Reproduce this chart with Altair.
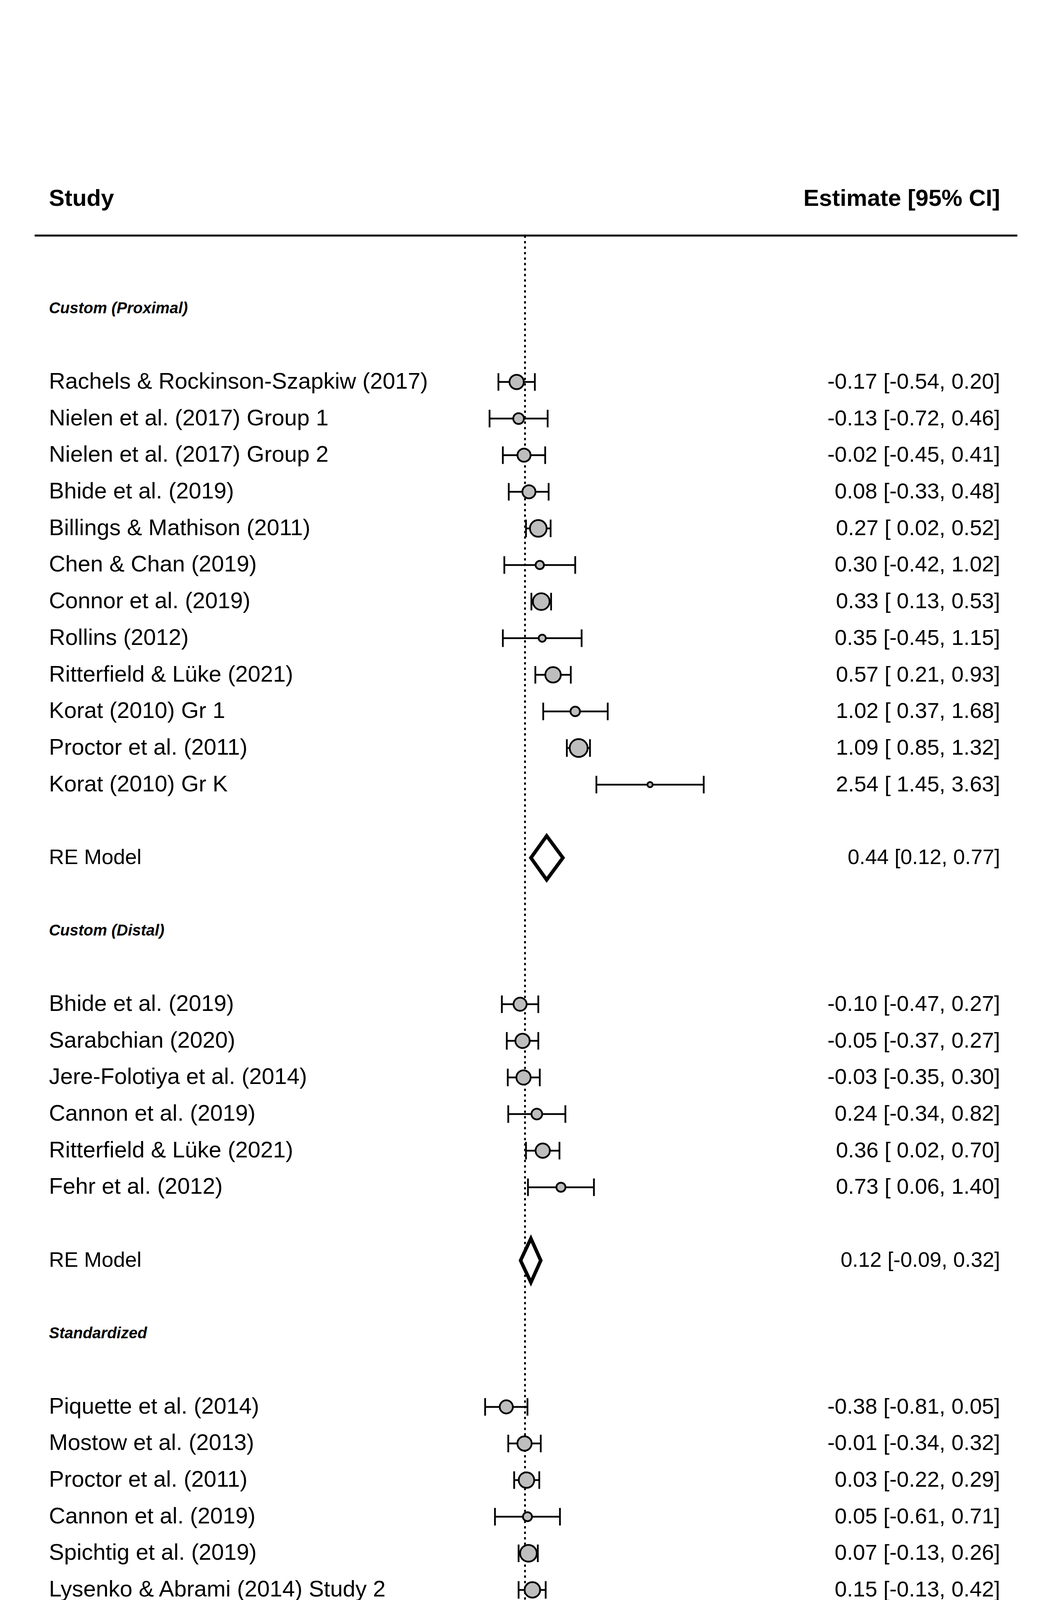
import altair as alt
import pandas as pd

# study rows: name, estimate, lower, upper, marker radius (display units)
prox_names = ["Rachels & Rockinson-Szapkiw (2017)", "Nielen et al. (2017) Group 1", "Nielen et al. (2017) Group 2",
              "Bhide et al. (2019)", "Billings & Mathison (2011)", "Chen & Chan (2019)", "Connor et al. (2019)",
              "Rollins (2012)", "Ritterfield & Lüke (2021)", "Korat (2010) Gr 1", "Proctor et al. (2011)",
              "Korat (2010) Gr K"]
prox_est = [-0.17, -0.13, -0.02, 0.08, 0.27, 0.30, 0.33, 0.35, 0.57, 1.02, 1.09, 2.54]
prox_lo = [-0.54, -0.72, -0.45, -0.33, 0.02, -0.42, 0.13, -0.45, 0.21, 0.37, 0.85, 1.45]
prox_hi = [0.20, 0.46, 0.41, 0.48, 0.52, 1.02, 0.53, 1.15, 0.93, 1.68, 1.32, 3.63]
prox_r = [6, 4.5, 5.5, 5.5, 7, 3.5, 7, 3, 6.5, 4, 7.5, 2.2]

dist_names = ["Bhide et al. (2019)", "Sarabchian (2020)", "Jere-Folotiya et al. (2014)", "Cannon et al. (2019)",
              "Ritterfield & Lüke (2021)", "Fehr et al. (2012)"]
dist_est = [-0.10, -0.05, -0.03, 0.24, 0.36, 0.73]
dist_lo = [-0.47, -0.37, -0.35, -0.34, 0.02, 0.06]
dist_hi = [0.27, 0.27, 0.30, 0.82, 0.70, 1.40]
dist_r = [5.5, 6, 6, 4.5, 6, 3.8]

std_names = ["Piquette et al. (2014)", "Mostow et al. (2013)", "Proctor et al. (2011)", "Cannon et al. (2019)",
             "Spichtig et al. (2019)", "Lysenko & Abrami (2014) Study 2", "Lysenko & Abrami (2014) Study 1",
             "Savage et al. (2013)", "Alvarez-Marinelli et al. (2014)"]
std_est = [-0.38, -0.01, 0.03, 0.05, 0.07, 0.15, 0.17, 0.19, 0.25]
std_lo = [-0.81, -0.34, -0.22, -0.61, -0.13, -0.13, -0.03, 0.05, 0.12]
std_hi = [0.05, 0.32, 0.29, 0.71, 0.26, 0.42, 0.36, 0.33, 0.38]
std_r = [5.5, 6, 6.5, 3.8, 7, 6.5, 7, 7, 7]

# pooled models
re_rows = [13, 24, 37.5, 41]
re_est = [0.44, 0.12, 0.13, 0.22]
re_lo = [0.12, -0.09, 0.05, 0.09]
re_hi = [0.77, 0.32, 0.22, 0.36]
re_fill = ["white", "white", "white", "black"]
re_text = ["0.44 [0.12, 0.77]", "0.12 [-0.09, 0.32]", "0.13 [0.05, 0.22]", "0.22 [ 0.09, 0.36]"]
pi_lo, pi_hi = -0.40, 0.82

sections = ["Custom (Proximal)", "Custom (Distal)", "Standardized"]
section_rows = [-2, 15, 26]
ticks = [-1, 0, 1, 2, 3, 4]

S = 2688 / 780
FONT = "Liberation Sans"


def fmt(v):
    return f"{v:.2f}" if v < 0 else f" {v:.2f}"


rows = []
for names, est, lo, hi, rr, start in [(prox_names, prox_est, prox_lo, prox_hi, prox_r, 0),
                                      (dist_names, dist_est, dist_lo, dist_hi, dist_r, 17),
                                      (std_names, std_est, std_lo, std_hi, std_r, 28)]:
    for i, n in enumerate(names):
        rows.append(dict(study=n, est=est[i], lo=lo[i], hi=hi[i], y=start + i, y1=start + i - 0.24,
                         y2=start + i + 0.24, size=3.1416 * (rr[i] * S) ** 2,
                         label=f"{est[i]:.2f} [{fmt(lo[i])}, {fmt(hi[i])}]", lx=-9.67, rx=9.65))
df = pd.DataFrame(rows)

xs = alt.Scale(domain=[-10.6, 10.6])
ys = alt.Scale(domain=[-10.35, 46.85], reverse=True)


def X(f):
    return alt.X(f, type="quantitative", scale=xs, axis=None)


def Y(f):
    return alt.Y(f, type="quantitative", scale=ys, axis=None, stack=None)


base = alt.Chart(df)
lw = 4.5
ci = base.mark_rule(color="black", strokeWidth=lw).encode(x=X("lo"), x2="hi", y=Y("y"))
capl = base.mark_rule(color="black", strokeWidth=lw).encode(x=X("lo"), y=Y("y1"), y2="y2")
caph = base.mark_rule(color="black", strokeWidth=lw).encode(x=X("hi"), y=Y("y1"), y2="y2")
pts = base.mark_point(filled=True, fill="#bebebe", stroke="black", strokeWidth=lw, shape="circle", opacity=1).encode(
    x=X("est"), y=Y("y"), size=alt.Size("size:Q", scale=None, legend=None))
names_t = base.mark_text(align="left", font=FONT, fontSize=58, color="black").encode(
    x=X("lx"), y=Y("y"), text="study")
est_t = base.mark_text(align="right", font=FONT, fontSize=56, color="black").encode(
    x=X("rx"), y=Y("y"), text="label")

# diamonds: one area layer each
diamonds = []
for k in range(4):
    h = 0.6
    r = re_rows[k]
    ddf = pd.DataFrame(dict(x=[re_lo[k], re_est[k], re_hi[k]], ya=[r, r - h, r], yb=[r, r + h, r]))
    diamonds.append(alt.Chart(ddf).mark_area(stroke="black", strokeWidth=9, fill=re_fill[k], fillOpacity=1,
                                             orient="vertical").encode(x=X("x"), y=Y("ya"), y2="yb"))

redf = pd.DataFrame(dict(y=re_rows, t=re_text, lx=-9.67, rx=9.65, n="RE Model"))
re_names = alt.Chart(redf).mark_text(align="left", font=FONT, fontSize=54).encode(x=X("lx"), y=Y("y"), text="n")
re_vals = alt.Chart(redf).mark_text(align="right", font=FONT, fontSize=54).encode(x=X("rx"), y=Y("y"), text="t")

pidf = pd.DataFrame(dict(lo=[pi_lo], hi=[pi_hi], y=[41], y1=[40.78], y2=[41.22]))
pi_line = alt.Chart(pidf).mark_rule(color="#808080", strokeWidth=4, strokeDash=[14, 10]).encode(
    x=X("lo"), x2="hi", y=Y("y"))
pi_c1 = alt.Chart(pidf).mark_rule(color="#808080", strokeWidth=4).encode(x=X("lo"), y=Y("y1"), y2="y2")
pi_c2 = alt.Chart(pidf).mark_rule(color="#808080", strokeWidth=4).encode(x=X("hi"), y=Y("y1"), y2="y2")

secdf = pd.DataFrame(dict(t=sections, y=section_rows, lx=-9.67))
sec_t = alt.Chart(secdf).mark_text(align="left", font=FONT, fontSize=40, fontStyle="italic", fontWeight="bold").encode(
    x=X("lx"), y=Y("y"), text="t")

hdf = pd.DataFrame(dict(t=["Study", "Estimate [95% CI]"], x=[-9.67, 9.65], y=[-5, -5]))
head_l = alt.Chart(hdf.iloc[[0]]).mark_text(align="left", font=FONT, fontSize=60, fontWeight="bold").encode(
    x=X("x"), y=Y("y"), text="t")
head_r = alt.Chart(hdf.iloc[[1]]).mark_text(align="right", font=FONT, fontSize=60, fontWeight="bold").encode(
    x=X("x"), y=Y("y"), text="t")

hl = pd.DataFrame(dict(x=[-9.96, -9.96], x2=[10.0, 10.0], y=[-4, 40.1]))
hlines = alt.Chart(hl).mark_rule(color="black", strokeWidth=5).encode(x=X("x"), x2="x2", y=Y("y"))
zl = pd.DataFrame(dict(x=[0], y=[-4], y2=[41.7]))
zero = alt.Chart(zl).mark_rule(color="black", strokeWidth=4.5, strokeDash=[6, 8]).encode(x=X("x"), y=Y("y"), y2="y2")

tdf = pd.DataFrame(dict(x=ticks, y=[43] * 6, y1=[42.6] * 6, ly=[44.26] * 6, t=[str(v) for v in ticks]))
axis_line = alt.Chart(pd.DataFrame(dict(a=[-1], b=[4], y=[43]))).mark_rule(color="black", strokeWidth=5).encode(
    x=X("a"), x2="b", y=Y("y"))
axis_ticks = alt.Chart(tdf).mark_rule(color="black", strokeWidth=5).encode(x=X("x"), y=Y("y1"), y2="y")
axis_labels = alt.Chart(tdf).mark_text(font=FONT, fontSize=56).encode(x=X("x"), y=Y("ly"), text="t")
axis_title = alt.Chart(pd.DataFrame(dict(x=[1.4], y=[45.55], t=["Unconstrained Skills"]))).mark_text(
    font=FONT, fontSize=56).encode(x=X("x"), y=Y("y"), text="t")

chart = alt.layer(
    hlines, zero, ci, capl, caph, pts, names_t, est_t, *diamonds, re_names, re_vals,
    pi_line, pi_c1, pi_c2, sec_t, head_l, head_r, axis_line, axis_ticks, axis_labels, axis_title
).properties(
    width=2672, height=5360, padding=0, background="white",
    autosize=alt.AutoSizeParams(type="none")
).configure_view(stroke=None)

chart.save("out.html", embed_options={"renderer": "svg", "actions": False})
